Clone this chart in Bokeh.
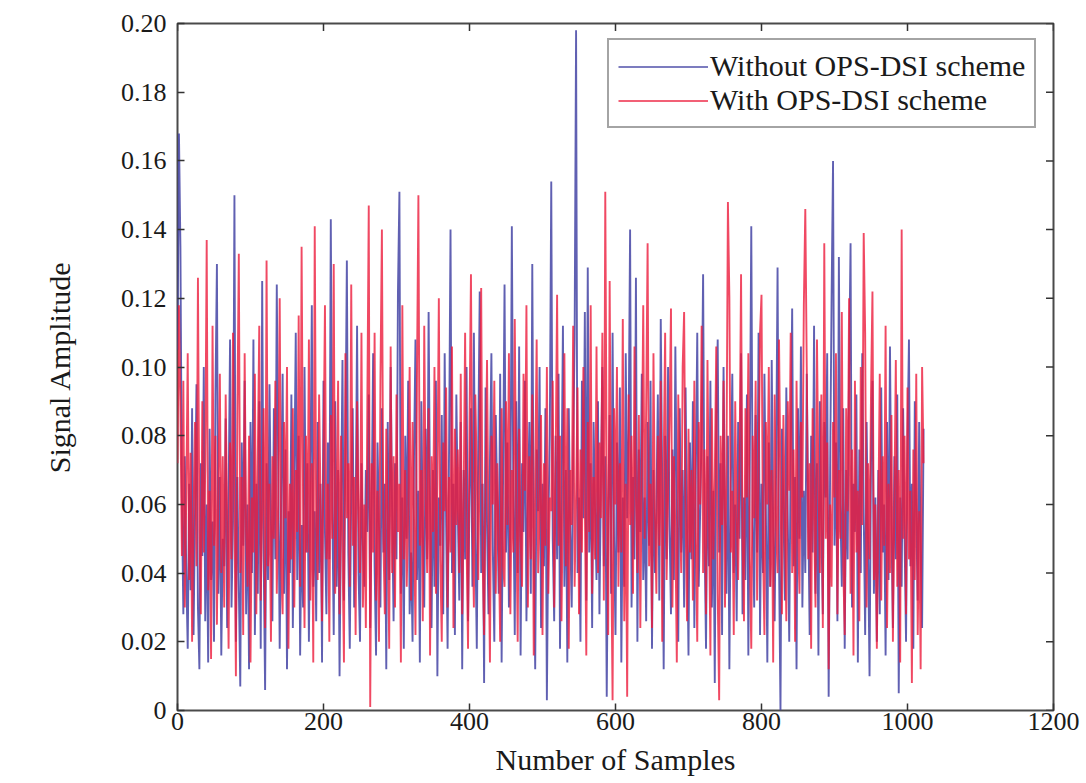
import math
from bokeh.plotting import figure
from bokeh.models import Range1d, FixedTicker, Legend, LegendItem, ColumnDataSource
from bokeh.embed import file_html
from bokeh.resources import INLINE

# Signal amplitude in thousandths, one value every 2 samples (samples 0..1022)
without_ops = [
105,168,135,62,28,74,40,18,66,35,88,22,58,95,30,12,72,45,100,26,60,14,82,38,55,20,92,130,34,68,16,50,
42,85,24,62,108,30,55,150,20,68,36,7,78,48,96,28,60,12,84,40,108,22,66,34,90,18,125,45,6,72,38,95,
55,26,88,44,124,70,18,62,98,34,76,12,58,40,92,24,66,110,38,80,16,54,30,100,46,72,20,64,118,36,58,26,
84,40,66,14,96,52,28,78,44,143,60,22,90,36,70,10,58,102,32,76,131,46,18,64,88,30,54,112,40,20,72,48,
36,70,52,92,24,60,104,42,16,78,54,30,88,46,66,12,84,38,100,58,26,72,44,122,151,34,62,18,80,50,96,28,
46,20,74,108,38,64,14,90,52,30,82,44,116,58,24,70,36,96,10,62,48,86,28,104,54,18,76,140,40,66,22,92,
58,32,84,12,70,44,100,26,62,88,36,110,50,18,78,122,40,66,8,94,54,28,72,104,46,20,86,60,34,98,14,68,
124,46,78,30,56,141,64,22,90,40,106,16,72,52,96,26,60,84,34,130,48,12,76,58,100,24,66,42,88,3,54,80,
154,50,26,80,44,98,18,64,112,36,70,14,88,52,30,76,108,198,40,62,20,96,56,116,32,129,46,72,24,84,58,38,
90,28,66,100,42,74,4,58,86,34,110,50,22,78,46,94,14,62,36,104,56,82,140,30,68,44,126,20,76,52,98,38,
62,26,84,48,96,18,70,40,58,92,32,114,66,12,80,44,100,54,28,76,38,106,60,20,88,46,70,30,94,52,16,78,
44,90,24,68,110,36,58,82,127,50,18,74,42,96,30,64,8,86,108,46,72,22,100,56,34,80,12,66,98,40,60,26,
84,50,104,28,62,38,92,16,74,141,54,30,86,46,110,22,66,40,98,58,14,78,36,102,52,26,70,129,44,0,82,60,
32,94,56,20,76,117,42,68,12,88,50,106,30,64,40,98,58,22,80,46,112,34,72,16,90,54,28,84,62,104,4,70,
120,160,48,78,26,132,60,36,88,18,70,44,100,136,30,66,52,92,14,76,40,104,58,22,84,48,10,72,96,34,62,20,
70,28,94,46,60,16,84,38,106,54,24,74,44,92,5,62,36,88,50,20,78,108,42,66,18,90,56,32,84,46,24,82]

with_ops = [
72,118,88,45,96,30,62,104,38,75,20,58,84,42,126,52,28,90,46,70,137,35,64,15,112,48,80,25,66,98,40,74,
30,92,56,18,78,44,110,60,10,86,133,40,68,22,104,52,36,80,14,62,46,98,28,74,112,32,58,88,24,131,42,66,
20,74,50,96,34,60,120,42,28,84,56,100,18,66,44,88,30,70,52,115,36,135,62,24,80,46,108,32,72,14,141,54,
38,92,60,26,74,118,44,66,20,86,50,130,34,62,96,28,80,46,14,104,56,72,36,124,48,68,22,90,58,40,110,30,
60,24,88,147,1,72,46,110,32,64,20,96,140,50,28,82,56,18,106,40,74,30,92,52,66,14,118,44,70,36,58,100,
32,84,56,22,96,150,48,70,26,112,62,40,88,16,74,52,100,34,66,120,44,20,78,58,94,30,68,46,106,24,82,54,
76,40,98,28,62,110,48,18,84,127,56,30,92,68,38,76,123,44,22,66,102,52,14,80,60,96,34,72,50,20,88,42,
36,90,54,104,28,70,46,114,60,20,82,50,36,98,64,118,30,74,44,92,16,68,108,40,56,86,22,72,48,100,34,62,
58,96,30,72,121,48,80,26,64,104,42,88,18,70,54,112,36,62,94,28,76,46,100,60,16,84,52,118,34,68,44,106,
40,78,56,110,32,151,64,22,125,50,3,88,60,100,36,72,46,114,26,66,4,92,54,80,34,106,62,40,86,24,70,118,
50,88,136,42,66,24,104,58,34,80,48,96,20,72,110,38,62,84,117,30,74,52,14,92,64,40,100,116,56,26,82,46,
70,32,96,52,20,84,60,112,40,76,28,102,58,16,88,44,68,106,34,3,80,54,96,30,72,148,120,46,64,22,90,56,
38,74,127,50,26,88,62,104,44,18,80,56,96,32,68,110,121,48,22,84,60,100,36,70,14,92,54,40,108,66,28,86,
58,26,90,64,110,40,76,20,96,52,34,84,62,118,146,100,44,72,18,88,56,30,108,66,40,92,24,136,50,78,12,60,
36,84,62,104,28,70,50,116,42,22,88,58,120,34,76,16,96,46,64,26,100,54,139,110,30,72,44,92,122,38,60,18,
56,98,32,74,48,112,24,66,40,86,20,60,102,36,70,14,140,50,80,28,94,44,64,8,76,38,98,22,58,12,100,72]

sample_step = 2
x_limits = (0, 1200)
y_limits = (0, 0.2)
x_ticks = [0, 200, 400, 600, 800, 1000, 1200]
y_ticks = [0, 0.02, 0.04, 0.06, 0.08, 0.10, 0.12, 0.14, 0.16, 0.18, 0.20]
y_tick_labels = ["0", "0.02", "0.04", "0.06", "0.08", "0.10", "0.12", "0.14", "0.16", "0.18", "0.20"]
series_names = ["Without OPS-DSI scheme", "With OPS-DSI scheme"]
series_colors = ["#4444a4", "#ec1c3c"]

FONT = "Liberation Serif"
TICK_COLOR = "#333333"

src_a = ColumnDataSource(dict(x=[i * sample_step for i in range(len(without_ops))],
                              y=[v / 1000 for v in without_ops]))
src_b = ColumnDataSource(dict(x=[i * sample_step for i in range(len(with_ops))],
                              y=[v / 1000 for v in with_ops]))

p = figure(width=1080, height=782, output_backend="svg", toolbar_location=None,
           x_range=Range1d(*x_limits), y_range=Range1d(*y_limits),
           min_border_left=177, min_border_right=27, min_border_top=23, min_border_bottom=72)
p.grid.visible = False
p.background_fill_color = "white"
p.border_fill_color = "white"
p.outline_line_color = "#4a4a4a"
p.outline_line_width = 2

p.line("x", "y", source=src_a, line_color=series_colors[0], line_width=1.9, line_alpha=0.85)
p.line("x", "y", source=src_b, line_color=series_colors[1], line_width=1.9, line_alpha=0.8)

# legend-only renderers (a single undefined point, not visible in the plot)
leg_a = p.line(x=[0], y=[math.nan], line_color=series_colors[0], line_width=2, line_alpha=0.7)
leg_b = p.line(x=[0], y=[math.nan], line_color=series_colors[1], line_width=2, line_alpha=0.7)

# MATLAB-style inward ticks on the right and top edges of the box
p.scatter(x=[x_limits[1]] * len(y_ticks), y=y_ticks, marker="dash", size=15,
          line_color=TICK_COLOR, line_width=1.5)
p.scatter(x=x_ticks, y=[y_limits[1]] * len(x_ticks), marker="dash", angle=math.pi / 2,
          size=15, line_color=TICK_COLOR, line_width=1.5)

def style_axis(ax, ticks, labels):
    ax.ticker = FixedTicker(ticks=ticks)
    ax.axis_line_color = None
    ax.major_tick_in = 7
    ax.major_tick_out = 0
    ax.major_tick_line_color = TICK_COLOR
    ax.major_tick_line_width = 1.5
    ax.minor_tick_line_color = None
    ax.major_label_text_font = FONT
    ax.major_label_text_font_size = "26px"
    ax.major_label_text_color = "#1a1a1a"
    ax.major_label_overrides = labels
    ax.axis_label_text_font = FONT
    ax.axis_label_text_font_size = "30px"
    ax.axis_label_text_font_style = "normal"
    ax.axis_label_text_color = "#1a1a1a"

xa = p.xaxis[0]
style_axis(xa, x_ticks, {t: str(t) for t in x_ticks})
xa.major_label_standoff = 2
xa.axis_label = "Number of Samples"
xa.axis_label_standoff = 10

ya = p.yaxis[0]
style_axis(ya, y_ticks, {t: l for t, l in zip(y_ticks, y_tick_labels)})
ya.major_label_standoff = 11
ya.axis_label = "Signal Amplitude"
ya.axis_label_standoff = 42

legend = Legend(items=[LegendItem(label=series_names[0], renderers=[leg_a]),
                       LegendItem(label=series_names[1], renderers=[leg_b])],
                location=(430, 582))
legend.label_text_font = FONT
legend.label_text_font_size = "30px"
legend.label_text_color = "#1a1a1a"
legend.glyph_width = 90
legend.glyph_height = 33
legend.label_height = 33
legend.label_standoff = 2
legend.spacing = 0
legend.padding = 9
legend.margin = 0
legend.border_line_color = "#4a4a4a"
legend.border_line_width = 2
legend.background_fill_color = "white"
legend.background_fill_alpha = 1
p.add_layout(legend)

open("out.html", "w").write(file_html(p, INLINE))
